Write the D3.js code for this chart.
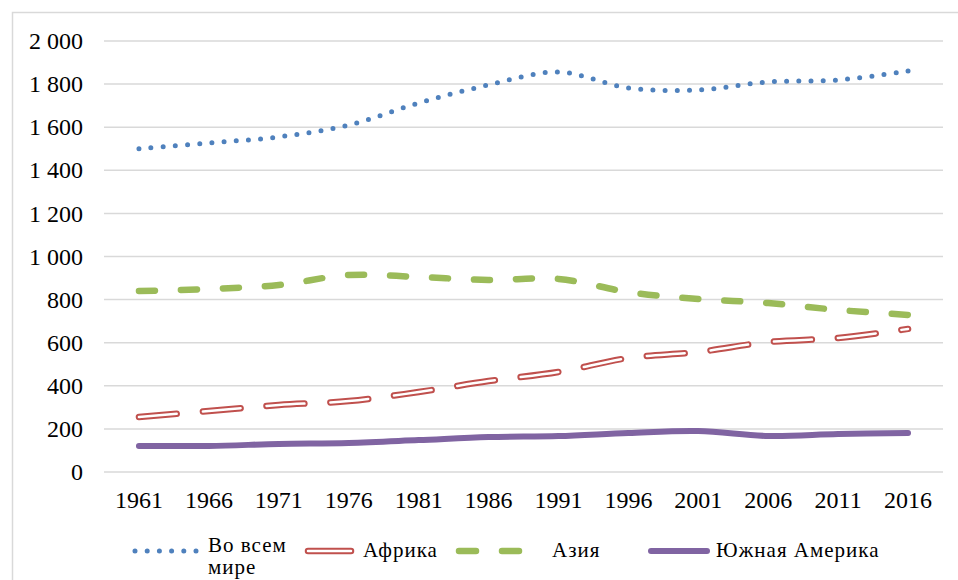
<!DOCTYPE html>
<html><head><meta charset="utf-8">
<script src="https://cdn.jsdelivr.net/npm/d3@7"></script>
<style>
body{margin:0;background:#fff;}
</style></head>
<body><svg id="c" width="958" height="580"></svg>
<script>
const years = ["1961","1966","1971","1976","1981","1986","1991","1996","2001","2006","2011","2016"];
const world = [1500,1527,1555,1610,1712,1796,1856,1782,1773,1810,1819,1861];
const africa = [255,283,311,329,371,422,464,529,557,603,622,664];
const asia = [840,849,868,914,905,891,896,835,803,784,752,729];
const southAmerica = [121,121,130,135,148,162,167,181,190,167,176,181];
const yTicks = [0,200,400,600,800,1000,1200,1400,1600,1800,2000];
const seriesNames = ["Во всем мире","Африка","Азия","Южная Америка"];

const FONT = "'Liberation Serif', 'Times New Roman', 'DejaVu Serif', serif";
const svg = d3.select("#c").attr("font-family",FONT);
const L=104, R=943, T=41, B=472;
const x = d3.scaleBand().domain(years).range([L,R]);
const y = d3.scaleLinear().domain([0,2000]).range([B,T]);
const fmt = d => d3.format(",")(d).replace(/,/g," ");

// chart border
svg.append("rect").attr("x",12.5).attr("y",12.5).attr("width",960).attr("height",600)
  .attr("fill","none").attr("stroke","#d9d9d9").attr("stroke-width",1.5);

// gridlines
svg.append("g").selectAll("line").data(yTicks).join("line")
  .attr("x1",L).attr("x2",R).attr("y1",d=>y(d)).attr("y2",d=>y(d))
  .attr("stroke","#d9d9d9").attr("stroke-width",1.5);

// y axis labels
svg.append("g").selectAll("text").data(yTicks).join("text")
  .attr("font-family",FONT)
  .attr("x",83).attr("y",d=>y(d)).attr("dy","0.34em").attr("text-anchor","end")
  .attr("font-size",24).attr("fill","#000").text(fmt);

// x axis labels
svg.append("g").selectAll("text").data(years).join("text")
  .attr("font-family",FONT)
  .attr("x",d=>x(d)+x.bandwidth()/2).attr("y",508).attr("text-anchor","middle")
  .attr("font-size",24).attr("fill","#000").text(d=>d);

const line = vals => d3.line().x((d,i)=>x(years[i])+x.bandwidth()/2).y(d=>y(d))
  .curve(d3.curveCatmullRom.alpha(0.5))(vals);

const styles = [
  [{stroke:"#4f81bd",w:5,dash:"0,12.2",cap:"round"}],
  [{stroke:"#c0504d",w:6.5,dash:"38,26",cap:"round"},{stroke:"#fff",w:2.5,dash:"38,26",cap:"round"}],
  [{stroke:"#9bbb59",w:6.5,dash:"16,26",cap:"round"}],
  [{stroke:"#8064a2",w:6,dash:null,cap:"round"}]
];
const data = [world,africa,asia,southAmerica];

[3,2,1,0].forEach(k=>{
  styles[k].forEach(s=>{
    svg.append("path").attr("d",line(data[k])).attr("fill","none")
      .attr("stroke",s.stroke).attr("stroke-width",s.w)
      .attr("stroke-linecap",s.cap).attr("stroke-linejoin","round")
      .attr("stroke-dasharray",s.dash);
  });
});

// legend
const legY = 551;
const leg = [
  {k:0,x1:135,x2:200,tx:208},
  {k:1,x1:308,x2:351,tx:363},
  {k:2,x1:459,x2:542,tx:552},
  {k:3,x1:651,x2:707,tx:716}
];
const legDash = [["0,12.2"],["60,30","60,30"],["17,26"],[null]];
leg.forEach((g,j)=>{
  styles[g.k].forEach((s,m)=>{
    svg.append("line").attr("x1",g.x1).attr("x2",g.x2).attr("y1",legY).attr("y2",legY)
      .attr("stroke",s.stroke).attr("stroke-width",s.w).attr("stroke-linecap",s.cap)
      .attr("stroke-dasharray",legDash[g.k][m]);
  });
  const t = svg.append("text").attr("font-family",FONT).attr("x",g.tx)
    .attr("y",g.k===0?552:557).attr("font-size",21)
    .attr("letter-spacing","1px").attr("fill","#000");
  if(g.k===0){
    t.append("tspan").attr("x",g.tx).text("Во всем");
    t.append("tspan").attr("x",g.tx).attr("dy",22).text("мире");
  } else t.text(seriesNames[g.k]);
});
</script></body></html>
